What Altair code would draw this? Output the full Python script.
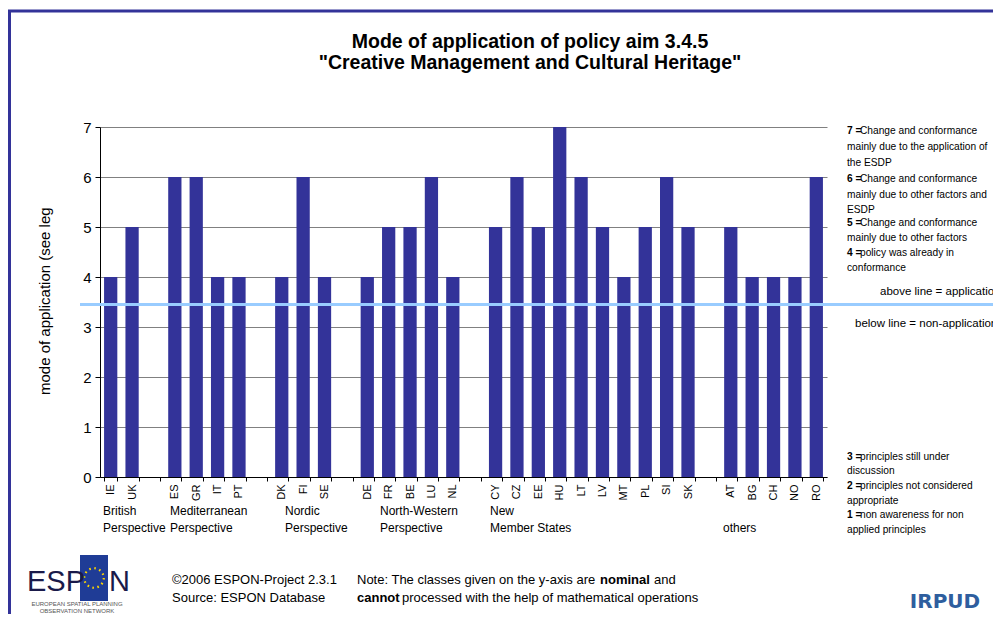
import altair as alt
import pandas as pd

# ---------------- data ----------------
countries = ["IE", "UK", "ES", "GR", "IT", "PT", "DK", "FI", "SE",
             "DE", "FR", "BE", "LU", "NL",
             "CY", "CZ", "EE", "HU", "LT", "LV", "MT", "PL", "SI", "SK",
             "AT", "BG", "CH", "NO", "RO"]
values = [4, 5, 6, 6, 4, 4, 4, 6, 4,
          4, 5, 5, 6, 4,
          5, 6, 5, 7, 6, 5, 4, 5, 6, 5,
          5, 4, 4, 4, 6]
# axis slots (gaps between country groups are empty slots with blank names)
slots = ["IE", "UK", " ", "ES", "GR", "IT", "PT", "  ", "DK", "FI", "SE", "   ",
         "DE", "FR", "BE", "LU", "NL", "    ",
         "CY", "CZ", "EE", "HU", "LT", "LV", "MT", "PL", "SI", "SK", "     ",
         "AT", "BG", "CH", "NO", "RO"]
y_ticks = [0, 1, 2, 3, 4, 5, 6, 7]
threshold = 3.45

title_lines = ["Mode of application of policy aim 3.4.5",
               "\"Creative Management and Cultural Heritage\""]
y_title = "mode of application (see leg"
group_labels = [("British", "Perspective"), ("Mediterranean", "Perspective"),
                ("Nordic", "Perspective"), ("North-Western", "Perspective"),
                ("New", "Member States"), ("", "others")]
legend_top = [("7 =", "Change and conformance"), ("", "mainly due to the application of"),
              ("", "the ESDP"),
              ("6 =", "Change and conformance"), ("", "mainly due to other factors and"),
              ("", "ESDP"),
              ("5 =", "Change and conformance"), ("", "mainly due to other factors"),
              ("4 =", "policy was already in"), ("", "conformance")]
legend_bottom = [("3 =", "principles still under"), ("", "discussion"),
                 ("2 =", "principles not considered"), ("", "appropriate"),
                 ("1 =", "non awareness for non"), ("", "applied principles")]

df = pd.DataFrame({"country": countries, "value": values})

FONT = "Liberation Sans"
W, H = 727, 350
OX, OY = 100, 127  # page position of plot origin
PAD = {"left": 92, "top": 119, "right": 166, "bottom": 137}


def label(text, x, y, size=11, weight="normal", align="left", color="black",
          angle=0, baseline="middle", font=FONT):
    return alt.Chart(alt.Data(values=[{"k": 1}])).mark_text(
        text=text, fontSize=size, fontWeight=weight, align=align, baseline=baseline,
        color=color, angle=angle, font=font
    ).encode(x=alt.value(x - OX), y=alt.value(y - OY))


x_enc = alt.X("country:N", sort=slots,
              scale=alt.Scale(domain=slots, paddingInner=0.38, paddingOuter=0.19),
              axis=alt.Axis(title=None, labelAngle=270, labelFontSize=11, labelFont=FONT,
                            labelColor="black", labelPadding=3, tickSize=4,
                            tickColor="black", domainColor="black", grid=False,
                            tickBand="extent"))
y_enc = alt.Y("value:Q", scale=alt.Scale(domain=[0, 7], nice=False),
              axis=alt.Axis(title=None, values=y_ticks, labelFontSize=15, labelFont=FONT,
                            labelColor="black", labelPadding=4, tickSize=5,
                            tickColor="black", domainColor="black", grid=True,
                            gridColor="#808080", gridWidth=1))

bars = alt.Chart(df).mark_bar(color="#333399").encode(x=x_enc, y=y_enc)

line = alt.Chart(alt.Data(values=[{"t": threshold}])).mark_rule(
    color="#99CCFF", strokeWidth=3).encode(
    y=alt.Y("t:Q"), x=alt.value(80 - OX), x2=alt.value(1001 - OX))

layers = [bars, line]

# frame
layers.append(alt.Chart(alt.Data(values=[{"k": 1}])).mark_rule(color="#333399", strokeWidth=3).encode(
    x=alt.value(8 - OX), x2=alt.value(1001 - OX), y=alt.value(11 - OY)))
layers.append(alt.Chart(alt.Data(values=[{"k": 1}])).mark_rule(color="#333399", strokeWidth=3).encode(
    x=alt.value(9.5 - OX), y=alt.value(10 - OY), y2=alt.value(620 - OY)))

# title
layers.append(label(title_lines[0], 530, 42, size=19.5, weight="bold", align="center"))
layers.append(label(title_lines[1], 530, 63, size=19.5, weight="bold", align="center"))

# y title
layers.append(label(y_title, 45, 395, size=15, angle=270, align="left"))

# group labels
gx = [103, 170, 285, 380, 490, 723]
for (l1, l2), x in zip(group_labels, gx):
    if l1:
        layers.append(label(l1, x, 511, size=12))
    layers.append(label(l2, x, 528, size=12))

# right legend
top_y = [131, 147, 163, 179, 195, 210, 223, 238, 253, 268]
for (b, t), y in zip(legend_top, top_y):
    if b:
        layers.append(label(b, 847, y, size=10.2, weight="bold"))
        layers.append(label(t, 860, y, size=10.2))
    else:
        layers.append(label(t, 847, y, size=10.2))
bot_y = [457, 471, 486, 501, 515, 530]
for (b, t), y in zip(legend_bottom, bot_y):
    if b:
        layers.append(label(b, 847, y, size=10.2, weight="bold"))
        layers.append(label(t, 860, y, size=10.2))
    else:
        layers.append(label(t, 847, y, size=10.2))

layers.append(label("above line = application", 880, 292, size=11.5))
layers.append(label("below line = non-application", 855, 324, size=11.5))

# footer
layers.append(label("\u00a92006  ESPON-Project 2.3.1", 172, 580, size=13))
layers.append(label("Source:  ESPON Database", 172, 598, size=13))
layers.append(label("Note:  The classes given on the y-axis are", 357, 580, size=13))
layers.append(label("nominal", 600, 580, size=13, weight="bold"))
layers.append(label("and", 654, 580, size=13))
layers.append(label("cannot", 357, 598, size=13, weight="bold"))
layers.append(label("processed with the help of mathematical operations", 402, 598, size=13))

# ESPON logo
layers.append(alt.Chart(alt.Data(values=[{"k": 1}])).mark_rect(color="#1F3C96").encode(
    x=alt.value(80 - OX), x2=alt.value(108 - OX), y=alt.value(555 - OY), y2=alt.value(601 - OY)))
layers.append(alt.Chart(alt.Data(values=[{"k": 1}])).mark_point(
    shape="circle", size=380, stroke="#FFD700", strokeWidth=2.2, strokeDash=[1.6, 3.5],
    filled=False, opacity=1).encode(x=alt.value(94 - OX), y=alt.value(578 - OY)))
layers.append(label("ESP", 27, 591, size=29, color="#1A1A4A", baseline="alphabetic"))
layers.append(label("N", 109, 591, size=29, color="#1A1A4A", baseline="alphabetic"))
layers.append(label("EUROPEAN SPATIAL PLANNING", 77, 604, size=6, color="#555555", align="center"))
layers.append(label("OBSERVATION NETWORK", 77, 611, size=6, color="#555555", align="center"))

# IRPUD logo
layers.append(label("IRPUD", 945, 602, size=20, weight="bold", color="#2E5E9E", align="center",
                    font="DejaVu Sans"))

chart = alt.layer(*layers).properties(
    width=W, height=H, padding=PAD,
    autosize=alt.AutoSizeParams(type="none"),
    background="white",
).configure_view(stroke=None)

chart.save("out.html", embed_options={"renderer": "svg", "actions": False})
